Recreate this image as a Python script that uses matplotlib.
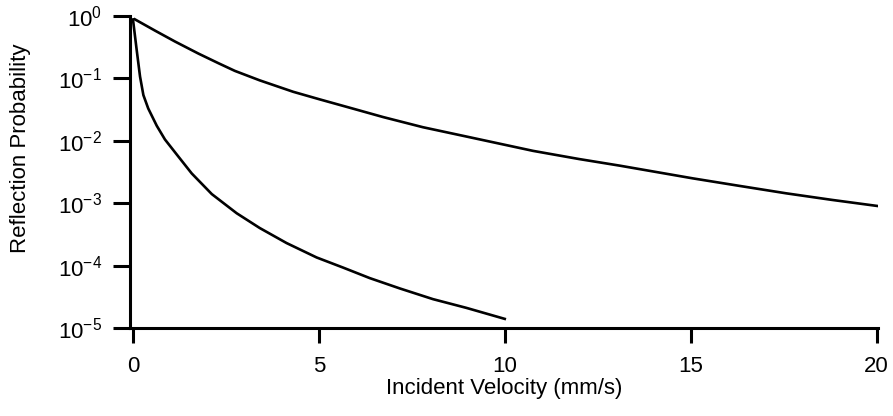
import matplotlib
matplotlib.use("Agg")
import matplotlib.pyplot as plt
from matplotlib.ticker import LogLocator, NullLocator

plt.rcParams['font.family'] = ['Liberation Sans', 'DejaVu Sans']
plt.rcParams['mathtext.fontset'] = 'custom'
plt.rcParams['mathtext.rm'] = 'Liberation Sans'
plt.rcParams['mathtext.it'] = 'Liberation Sans'

# upper curve
upper_x = [0.05, 0.6, 1.13, 1.76, 2.3, 2.74, 3.41, 4.31, 5.03, 5.9, 6.73,
           7.8, 8.97, 10.76, 12.0, 13.09, 15.06, 16.3, 17.57, 18.8, 20.04]
upper_y = [0.885, 0.58, 0.39, 0.25, 0.175, 0.132, 0.093, 0.061, 0.046,
           0.033, 0.024, 0.0165, 0.0117, 0.0069, 0.0051, 0.0040, 0.0025,
           0.0019, 0.00144, 0.00113, 0.0009]

# lower curve
lower_x = [0.0, 0.05, 0.10, 0.19, 0.28, 0.41, 0.64, 0.86, 1.22, 1.58, 2.12,
           2.79, 3.41, 4.13, 4.94, 5.65, 6.37, 7.18, 8.07, 8.97, 10.0]
lower_y = [0.88, 0.5, 0.285, 0.107, 0.054, 0.033, 0.0174, 0.0105, 0.0056,
           0.003, 0.0014, 0.00069, 0.0004, 2.3e-4, 1.35e-4, 9.3e-5,
           6.3e-5, 4.3e-5, 2.9e-5, 2.1e-5, 1.4e-5]

xticks = [0, 5, 10, 15, 20]

fig = plt.figure(figsize=(8.93, 4.16), dpi=100)
ax = fig.add_axes([130 / 893, 1 - 328 / 416, 748 / 893, 312 / 416])

ax.plot(upper_x, upper_y, color='black', lw=1.9)
ax.plot(lower_x, lower_y, color='black', lw=1.9)

ax.set_yscale('log')
ax.set_ylim(1e-5, 1e0)
ax.set_xlim(-0.08, 20.04)
ax.set_xticks(xticks)
ax.yaxis.set_major_locator(LogLocator(base=10, numticks=10))
ax.yaxis.set_minor_locator(NullLocator())

for side in ['top', 'right']:
    ax.spines[side].set_visible(False)
for side in ['left', 'bottom']:
    ax.spines[side].set_linewidth(2.2)

ax.tick_params(axis='y', direction='out', length=12, width=2.2,
               labelsize=16, pad=8)
ax.tick_params(axis='x', direction='out', length=11, width=2.2,
               labelsize=16, pad=9)

ax.set_xlabel("Incident Velocity (mm/s)", fontsize=16, labelpad=1)
ax.set_ylabel("Reflection Probability", fontsize=16)
ax.yaxis.set_label_coords(-0.132, 0.575)

fig.savefig("out.png", dpi=100)
